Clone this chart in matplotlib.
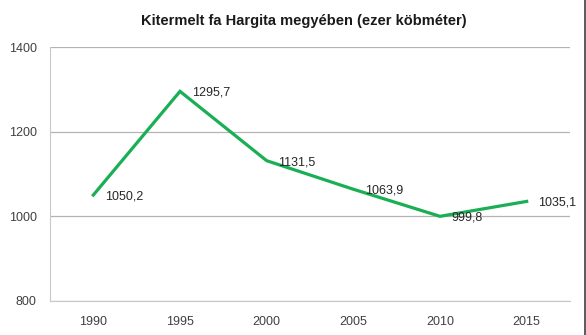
import matplotlib
matplotlib.use("Agg")
import matplotlib.pyplot as plt
from matplotlib.lines import Line2D

years = ["1990", "1995", "2000", "2005", "2010", "2015"]
values = [1050.2, 1295.7, 1131.5, 1063.9, 999.8, 1035.1]
labels = ["1050,2", "1295,7", "1131,5", "1063,9", "999,8", "1035,1"]
yticks = [800, 1000, 1200, 1400]
title = "Kitermelt fa Hargita megyében (ezer köbméter)"

plt.rcParams['font.family'] = ['Liberation Sans', 'DejaVu Sans']

fig = plt.figure(figsize=(5.86, 3.35), dpi=100)
ax = fig.add_axes([0.0853, 0.1024, 0.9727 - 0.0853, 0.8588 - 0.1024])

x = list(range(len(years)))
ax.plot(x, values, color="#1aaf54", lw=2.3, solid_joinstyle="miter", zorder=3)
for xi, v, lab in zip(x, values, labels):
    ax.annotate(lab, (xi, v), xytext=(8.5, -1), textcoords="offset points",
                ha="left", va="center", fontsize=9, color="#262626", zorder=4)

ax.set_xlim(-0.5, len(years) - 0.5)
ax.set_ylim(800, 1400)
ax.set_yticks(yticks)
ax.set_yticklabels([str(t) for t in yticks])
ax.set_xticks(x)
ax.set_xticklabels(years)
ax.tick_params(length=0, labelsize=9, colors="#404040")
ax.tick_params(axis="x", pad=11)
ax.tick_params(axis="y", pad=9.5)
ax.grid(axis="y", color="#b4b4b4", lw=0.9)
ax.set_axisbelow(True)
for s in ["top", "right"]:
    ax.spines[s].set_visible(False)
ax.spines["left"].set_color("#c8c8c8")
ax.spines["bottom"].set_color("#c8c8c8")

fig.text(0.519, 0.937, title, ha="center", va="center", fontsize=10.5,
         fontweight="bold", color="#1a1a1a")
fig.add_artist(Line2D([584.5 / 586, 584.5 / 586], [0, 1], color="#404040", lw=1.2))

fig.savefig("out.png", dpi=100)
